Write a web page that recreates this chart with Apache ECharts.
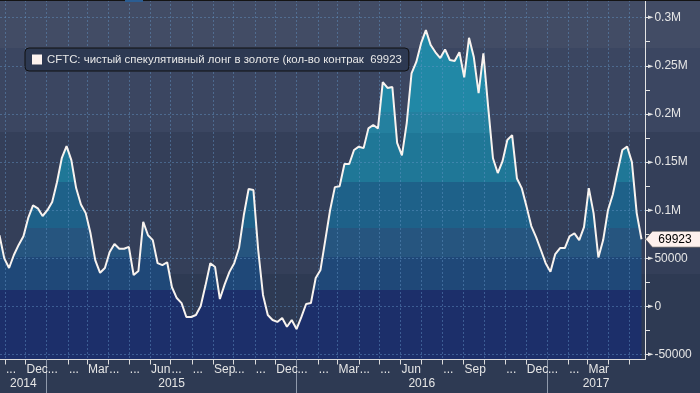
<!DOCTYPE html>
<html><head><meta charset="utf-8">
<script src="https://cdn.jsdelivr.net/npm/echarts@6/dist/echarts.min.js"></script>
<style>
html,body{margin:0;padding:0;}
#wrap{position:relative;width:700px;height:393px;
 background:linear-gradient(to bottom,#424c65 0px,#424c65 48px,#3b4661 48px,#3b4661 132px,#343f59 132px,#343f59 274px,#2e3a53 274px,#2e3a53 393px);}
#c{position:absolute;left:0;top:0;width:700px;height:393px;}
#topline{position:absolute;left:0;top:0;width:700px;height:1px;background:#141414;z-index:5;}
#toptab{position:absolute;left:125px;top:0;width:18px;height:2px;background:#2b5d92;z-index:6;}
</style>
</head><body>
<div id="wrap"><div id="c"></div><div id="topline"></div><div id="toptab"></div></div>
<script>
// ---- data ----
const seriesName = 'CFTC: чистый спекулятивный лонг в золоте (кол-во контрак';
const firstWeek = [2014, 9, 24];           // first weekly observation (UTC y, m, d)
const netLong = [
  74000, 50000, 40000, 53500, 64000, 73000, 92000, 105000, 102000, 94000,
  100000, 108500, 129000, 154000, 166500, 152000, 123000, 106000, 97000, 76000,
  48000, 35000, 40000, 56600, 65000, 60000, 60000, 62000, 32700, 37000,
  88000, 74000, 69000, 45000, 43000, 46000, 20000, 8800, 3600, -10900,
  -10900, -8800, 500, 22000, 45000, 41000, 7800, 23000, 36000, 45000,
  61000, 95000, 122000, 121000, 58700, 12000, -8800, -14000, -16000, -12000,
  -21000, -14000, -23400, -11000, 2600, 3600, 29600, 38000, 69000, 100000,
  124000, 125000, 148000, 148000, 162500, 166000, 164500, 185000, 188500, 185000,
  233000, 227000, 228000, 170000, 157000, 190500, 242000, 254000, 273500, 287000,
  271500, 264000, 258000, 267000, 256000, 255000, 264000, 238000, 279000, 259000,
  221500, 263000, 207000, 154000, 138600, 151000, 173000, 178000, 133000, 123000,
  104000, 83600, 72000, 58700, 45000, 36000, 54500, 60700, 60700, 73000,
  76000, 69000, 82500, 123000, 97000, 51000, 69000, 100000, 116000, 140000,
  162500, 166000, 150000, 97000, 69923
];
const monthLabels = [ // Nov 2014 .. May 2017
  '...', 'Dec',
  '...', '...', 'Mar', '...', '...', 'Jun', '...', '...', 'Sep', '...', '...', 'Dec',
  '...', '...', 'Mar', '...', '...', 'Jun', '', '...', 'Sep', '', '...', 'Dec',
  '...', '...', 'Mar', '', ''
];
const yearLabels = ['2014', '2015', '2016', '2017'];
const yLabelValues = [-50000, 0, 50000, 100000, 150000, 200000, 250000, 300000];
const yMinorValues = [-25000, 25000, 75000, 125000, 175000, 225000, 275000];

// ---- derived ----
const DAY = 864e5;
const t0 = Date.UTC(firstWeek[0], firstWeek[1], firstWeek[2]);
const seriesData = netLong.map((v, i) => [t0 + i * 7 * DAY, v]);
const lastVal = netLong[netLong.length - 1];

const X_MIN = Date.UTC(2014, 9, 24, 18);
const X_MAX = Date.UTC(2017, 4, 24, 3);
const Y_MIN = -55000, Y_MAX = 318300;

const monthStarts = monthLabels.map((_, i) => Date.UTC(2014, 10 + i, 1));
const monthMap = new Map(monthStarts.map((t, i) => [t, monthLabels[i]]));
const yearStarts = [Date.UTC(2015, 0, 1), Date.UTC(2016, 0, 1), Date.UTC(2017, 0, 1)];
const yearBounds = [X_MIN, ...yearStarts, X_MAX];
const yearMids = yearLabels.map((_, i) => (yearBounds[i] + yearBounds[i + 1]) / 2);
const yearMap = new Map(yearMids.map((t, i) => [t, yearLabels[i]]));
const yTicks = yLabelValues.concat(yMinorValues).sort((a, b) => a - b);

// ---- styles ----
const PLOT_H = 359.5;
const fillBands = [ // [top px, bottom px, colour]
  [0, 112, '#2188a6'], [112, 133, '#24809f'], [133, 182, '#1f7797'],
  [182, 228, '#1e6189'], [228, 257, '#26557f'], [257, 290, '#1f4878'],
  [290, PLOT_H, '#1c2f6a']
];
const stops = [];
fillBands.forEach(b => {
  stops.push({offset: b[0] / PLOT_H, color: b[2]});
  stops.push({offset: Math.min(1, b[1] / PLOT_H), color: b[2]});
});
const fillGrad = new echarts.graphic.LinearGradient(0, 0, 0, PLOT_H, stops, true);
const FONT = 'Liberation Sans';
const gridLine = {show: true, lineStyle: {color: 'rgba(100,150,200,0.45)', width: 1, type: [2, 2]}};

function yFmt(v) {
  if (Math.abs(v) >= 100000) return (v / 1e6) + 'M';
  return String(v);
}

const chart = echarts.init(document.getElementById('c'), null, {renderer: 'canvas'});
chart.setOption({
  backgroundColor: 'transparent',
  animation: false,
  grid: {left: 0, right: 55, top: 0, bottom: 393 - PLOT_H, containLabel: false},
  legend: {
    left: 25, top: 48,
    data: [{name: seriesName, icon: 'rect', itemStyle: {color: '#fdf3ef'}}],
    itemWidth: 10, itemHeight: 10,
    padding: [6, 7, 6, 7],
    backgroundColor: '#2d3952', borderColor: '#101010', borderWidth: 1, borderRadius: 4,
    selectedMode: false,
    formatter: n => n + '  ' + lastVal,
    textStyle: {color: '#e8e8e8', fontSize: 11.4, fontFamily: FONT}
  },
  xAxis: [{
    type: 'value', min: X_MIN, max: X_MAX, z: 3,
    axisLine: {show: true, onZero: false, lineStyle: {color: '#dcdcdc', width: 1}},
    axisTick: {show: true, length: 5, customValues: monthStarts, lineStyle: {color: '#dcdcdc'}},
    axisLabel: {customValues: monthStarts, formatter: v => monthMap.get(v) || '',
      align: 'left', color: '#e6e6e6', fontSize: 12, fontFamily: FONT, margin: 4, padding: [0, 0, 0, 1]},
    splitLine: gridLine
  }, {
    type: 'value', min: X_MIN, max: X_MAX, position: 'bottom', z: 3,
    axisLine: {show: false, onZero: false},
    axisTick: {show: true, length: 34, customValues: yearStarts, lineStyle: {color: '#8f99ab'}},
    axisLabel: {customValues: yearMids, formatter: v => yearMap.get(v) || '',
      color: '#e6e6e6', fontSize: 12, fontFamily: FONT, margin: 18},
    splitLine: {show: false}
  }],
  yAxis: [{
    type: 'value', position: 'right', min: Y_MIN, max: Y_MAX, z: 3,
    axisLine: {show: true, onZero: false, lineStyle: {color: '#e4e4e4', width: 1}},
    axisTick: {show: true, length: 5, customValues: yTicks, lineStyle: {color: '#e4e4e4'}},
    axisLabel: {customValues: yLabelValues, margin: 3,
      formatter: v => '{a|►}{b|' + yFmt(v) + '}',
      rich: {a: {fontSize: 7, color: '#e4e4e4', fontFamily: 'DejaVu Sans'},
             b: {fontSize: 12, color: '#e6e6e6', fontFamily: FONT, padding: [0, 0, 0, 1]}}},
    splitLine: {show: false}
  }, {
    type: 'value', position: 'right', min: Y_MIN, max: Y_MAX, z: 3,
    axisLine: {show: false, onZero: false},
    axisTick: {show: false, customValues: yLabelValues},
    axisLabel: {show: false},
    splitLine: gridLine
  }],
  series: [{
    name: seriesName, type: 'line', data: seriesData, z: 1, silent: true,
    symbol: 'none', lineStyle: {width: 0},
    areaStyle: {color: fillGrad, opacity: 1, origin: 'start'},
    itemStyle: {color: '#fdf3ef'}
  }, {
    name: seriesName, type: 'line', data: seriesData, z: 5, silent: true,
    symbol: 'none', lineStyle: {color: '#f8f3ef', width: 2},
    itemStyle: {color: '#fdf3ef'},
    markPoint: {
      symbol: 'path://M0,8L7,0L56,0L56,16L7,16Z',
      symbolSize: [55, 16], symbolOffset: [28, 0],
      itemStyle: {color: '#fdf0ec', borderColor: '#444', borderWidth: 0.5},
      label: {show: true, color: '#000', fontSize: 12, fontFamily: FONT, offset: [2, 0],
        formatter: p => String(p.value)},
      data: [{coord: [X_MAX, lastVal], value: lastVal}]
    }
  }]
});
</script>
</body></html>
